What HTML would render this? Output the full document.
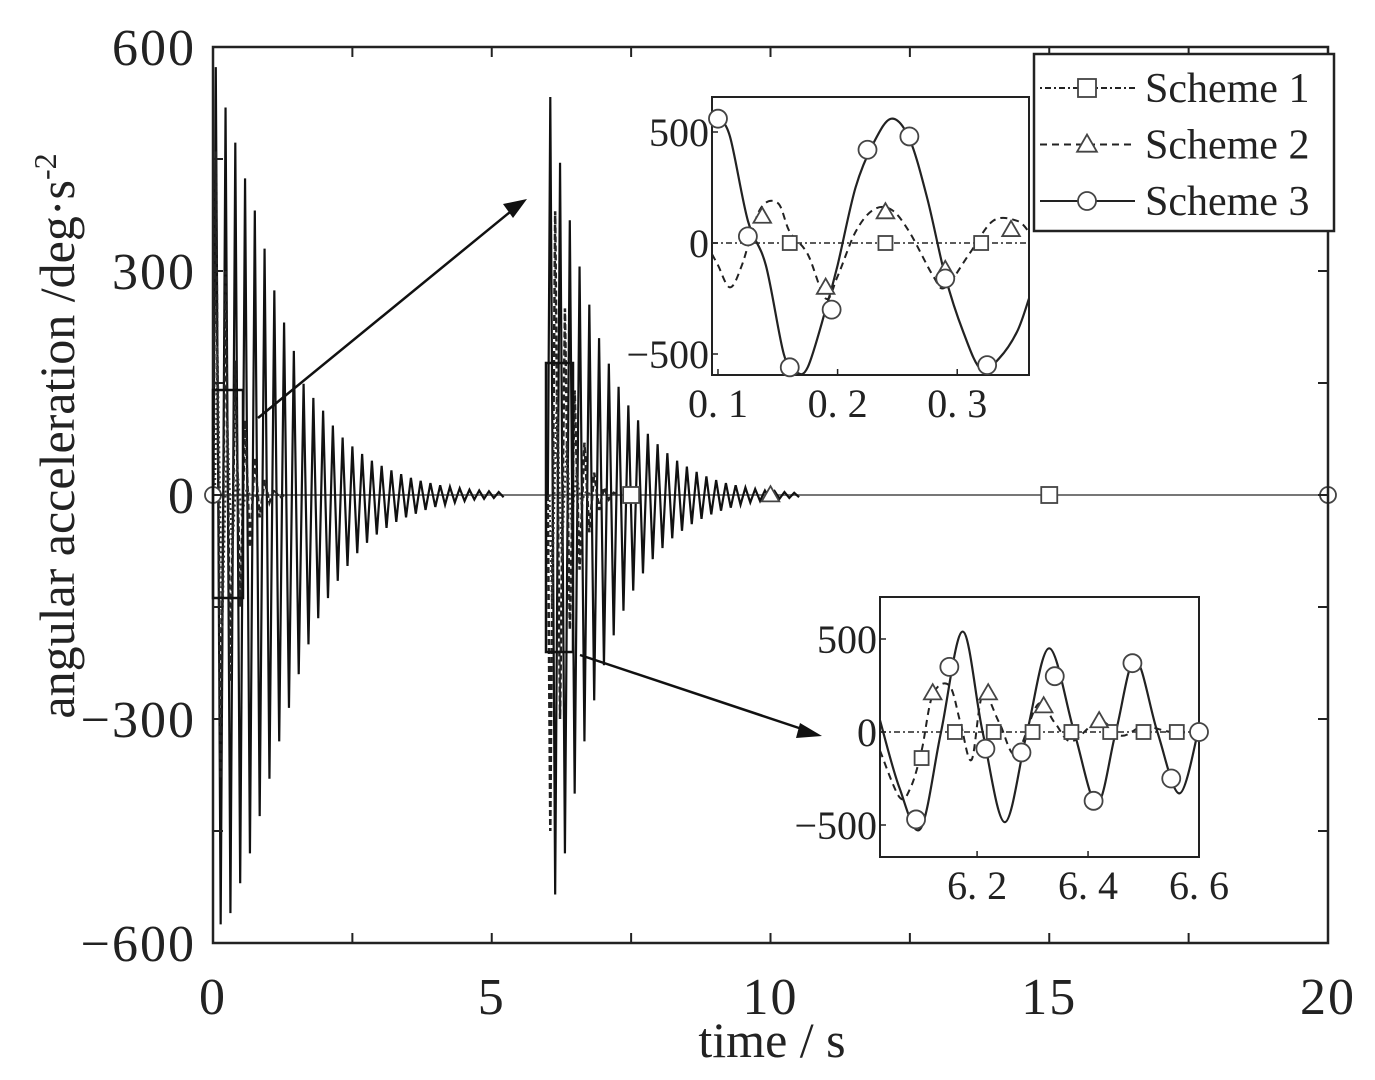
<!DOCTYPE html>
<html><head><meta charset="utf-8">
<style>
html,body{margin:0;padding:0;background:#fff;}
svg{display:block;}
text{font-family:"Liberation Serif",serif;fill:#222;}
</style></head>
<body>
<svg id="chart" width="1375" height="1080" viewBox="0 0 1375 1080" xmlns="http://www.w3.org/2000/svg">
<g id="main"></g>
<g id="inset1"></g>
<g id="inset2"></g>
<g id="legend"></g>
</svg>
<script>
// ---- main chart data ----
const xTicks = [0, 5, 10, 15, 20];
const yTicks = [600, 300, 0, -300, -600];
// Scheme 3 burst 1 (starting t=0.05) positive & negative peak amplitudes
const s3Burst1Pos = [573,519,472,424,381,330,274,231,193,149,130,113,93,77,65,55,46,39,33,28,23,19,16,13,11,9,7,6,5,4];
const s3Burst1Neg = [-575,-560,-520,-480,-430,-380,-330,-285,-240,-200,-165,-138,-115,-95,-78,-64,-53,-44,-36,-30,-25,-20,-16,-13,-10,-8,-6,-5,-4,-3];
// Scheme 3 burst 2 (starting t=6.05)
const s3Burst2Pos = [533,445,368,306,255,210,176,145,120,100,82,68,56,46,38,31,25,20,16,13,10,8,6,5,4,3];
const s3Burst2Neg = [-535,-480,-400,-330,-275,-228,-188,-155,-128,-105,-86,-71,-58,-48,-39,-32,-26,-21,-17,-13,-10,-8,-6,-5,-4,-3];
const s2Burst1 = [460,-380,300,-250,180,-150,100,-70,50,-30,20,-10,8,-4];
const s2Burst2 = [-450,380,-300,250,-180,140,-100,70,-50,30,-20,10,-6,3];
const s1Burst1 = [200,-180,100,-80,40,-30,10,-5];
const s1Burst2 = [-150,140,-90,70,-40,30,-10,5];
const burstStarts = [0.05, 6.05];
const period = 0.175;
const mainMarkers = [{s:1,t:7.5},{s:1,t:15},{s:2,t:10},{s:3,t:0},{s:3,t:20}];

// ---- inset 1 data (t 0.095..0.36) ----
const in1XTicks = [0.1, 0.2, 0.3];
const in1YTicks = [500, 0, -500];
const in1S3T = [0.095,0.1,0.11,0.125,0.14,0.155,0.165,0.175,0.19,0.2,0.215,0.23,0.245,0.26,0.275,0.29,0.305,0.32,0.335,0.35,0.36];
const in1S3V = [570,560,480,100,-100,-500,-580,-560,-300,-100,250,450,560,470,200,-150,-400,-570,-520,-400,-250];
const in1S3MarkT = [0.1,0.125,0.16,0.195,0.225,0.26,0.29,0.325];
const in1S3MarkV = [560,30,-560,-300,420,480,-160,-550];
const in1S2T = [0.095,0.1,0.11,0.12,0.135,0.15,0.16,0.175,0.19,0.2,0.215,0.23,0.245,0.26,0.28,0.29,0.31,0.33,0.35,0.36];
const in1S2V = [-50,-100,-200,-100,150,180,50,-50,-250,-150,50,150,150,50,-150,-200,-50,100,100,50];
const in1S2MarkT = [0.137,0.19,0.24,0.29,0.345];
const in1S2MarkV = [120,-200,140,-120,60];
const in1S1MarkT = [0.16,0.24,0.32];

// ---- inset 2 data (t 6.025..6.6) ----
const in2XTicks = [6.2, 6.4, 6.6];
const in2YTicks = [500, 0, -500];
const in2S3T = [6.025,6.06,6.098,6.135,6.174,6.21,6.25,6.29,6.33,6.375,6.416,6.45,6.485,6.525,6.565,6.6];
const in2S3V = [63,-300,-520,0,540,0,-485,0,450,0,-385,0,390,0,-330,25];
const in2S3MarkT = [6.09,6.15,6.215,6.28,6.34,6.41,6.48,6.55,6.6];
const in2S3MarkV = [-470,350,-90,-110,300,-370,370,-250,0];
const in2S2T = [6.025,6.06,6.08,6.1,6.12,6.15,6.17,6.19,6.21,6.24,6.27,6.31,6.34,6.37,6.42,6.46,6.5,6.55,6.6];
const in2S2V = [-100,-350,-300,-100,200,250,50,-150,200,50,-120,150,50,-50,60,-20,30,0,0];
const in2S2MarkT = [6.12,6.22,6.32,6.42];
const in2S2MarkV = [210,210,140,60];
const in2S1MarkT = [6.1,6.16,6.23,6.3,6.37,6.44,6.5,6.56];
const in2S1MarkV = [-140,0,0,0,0,0,0,0];

const NS = "http://www.w3.org/2000/svg";
function mk(parent, tag, attrs, name){
  const el = document.createElementNS(NS, tag);
  for (const k in attrs) el.setAttribute(k, attrs[k]);
  
  
  parent.appendChild(el);
  return el;
}
function marker(g, type, x, y, r, name){
  if (type === 1) return mk(g,'rect',{x:x-r,y:y-r,width:2*r,height:2*r,fill:'#fff',stroke:'#444','stroke-width':1.8},name);
  if (type === 2) return mk(g,'polygon',{points:`${x},${y-r*1.1} ${x-r*1.1},${y+r*0.8} ${x+r*1.1},${y+r*0.8}`,fill:'#fff',stroke:'#444','stroke-width':1.8},name);
  return mk(g,'circle',{cx:x,cy:y,r:r,fill:'#fff',stroke:'#444','stroke-width':1.8},name);
}
function smoothPath(pts){
  let d = `M${pts[0][0]},${pts[0][1]}`;
  for (let i=0;i<pts.length-1;i++){
    const p0 = pts[Math.max(0,i-1)], p1 = pts[i], p2 = pts[i+1], p3 = pts[Math.min(pts.length-1,i+2)];
    const c1x = p1[0]+(p2[0]-p0[0])/6, c1y = p1[1]+(p2[1]-p0[1])/6;
    const c2x = p2[0]-(p3[0]-p1[0])/6, c2y = p2[1]-(p3[1]-p1[1])/6;
    d += ` C${c1x},${c1y} ${c2x},${c2y} ${p2[0]},${p2[1]}`;
  }
  return d;
}

// ---- main axes ----
const L=213, R=1328, T=47, B=943;
const xs = t => L + (t/20)*(R-L);
const ys = v => B - ((v+600)/1200)*(B-T);
const main = document.getElementById('main');

function burstPath(start, pos, neg){
  let d = `M${xs(start-period/4)},${ys(0)}`;
  for (let i=0;i<pos.length;i++){
    d += ` L${xs(start+i*period)},${ys(pos[i])}`;
    d += ` L${xs(start+(i+0.5)*period)},${ys(neg[i])}`;
  }
  return d;
}
function altPath(start, vals, step){
  let d = `M${xs(start-step/2)},${ys(0)}`;
  for (let i=0;i<vals.length;i++) d += ` L${xs(start+i*step)},${ys(vals[i])}`;
  d += ` L${xs(start+vals.length*step)},${ys(0)}`;
  return d;
}
mk(main,'line',{x1:xs(0),y1:ys(0),x2:xs(20),y2:ys(0),stroke:'#777','stroke-width':2},'zero-baseline-series');
mk(main,'path',{d:burstPath(burstStarts[0],s3Burst1Pos,s3Burst1Neg),fill:'none',stroke:'#111','stroke-width':2.2},'scheme3-burst1');
mk(main,'path',{d:burstPath(burstStarts[1],s3Burst2Pos,s3Burst2Neg),fill:'none',stroke:'#111','stroke-width':2.2},'scheme3-burst2');
mk(main,'path',{d:altPath(burstStarts[0],s2Burst1,period/2),fill:'none',stroke:'#222','stroke-width':2.5,'stroke-dasharray':'6 3'},'scheme2-burst1');
mk(main,'path',{d:altPath(burstStarts[1],s2Burst2,period/2),fill:'none',stroke:'#222','stroke-width':2.5,'stroke-dasharray':'6 3'},'scheme2-burst2');
mk(main,'path',{d:altPath(burstStarts[0]+0.03,s1Burst1,period/2),fill:'none',stroke:'#333','stroke-width':2,'stroke-dasharray':'2 3'},'scheme1-burst1');
mk(main,'path',{d:altPath(burstStarts[1]+0.03,s1Burst2,period/2),fill:'none',stroke:'#333','stroke-width':2,'stroke-dasharray':'2 3'},'scheme1-burst2');
mainMarkers.forEach(m=>{ marker(main, m.s, xs(m.t), ys(0), 8, 'main-marker-scheme'+m.s); });

mk(main,'rect',{x:L,y:T,width:R-L,height:B-T,fill:'none',stroke:'#222','stroke-width':2.5},'main-plot-frame');
for (let t=0;t<=20;t+=2.5){
  mk(main,'line',{x1:xs(t),y1:B,x2:xs(t),y2:B-10,stroke:'#222','stroke-width':2},'x-tick');
  mk(main,'line',{x1:xs(t),y1:T,x2:xs(t),y2:T+10,stroke:'#222','stroke-width':2},'x-tick-top');
}
for (let v=-600;v<=600;v+=150){
  mk(main,'line',{x1:L,y1:ys(v),x2:L+10,y2:ys(v),stroke:'#222','stroke-width':2},'y-tick');
  mk(main,'line',{x1:R,y1:ys(v),x2:R-10,y2:ys(v),stroke:'#222','stroke-width':2},'y-tick-right');
}
xTicks.forEach(t=>{
  const e = mk(main,'text',{x:xs(t),y:1014,'font-size':52,'text-anchor':'middle','letter-spacing':2},'x-tick-label');
  e.textContent = t;
});
yTicks.forEach(v=>{
  const e = mk(main,'text',{x:196,y:ys(v)+18,'font-size':52,'text-anchor':'end','letter-spacing':2},'y-tick-label');
  e.textContent = v<0 ? '\u2212'+(-v) : v;
});
const xt = mk(main,'text',{x:772,y:1057,'font-size':50,'text-anchor':'middle'},'x-axis-title');
xt.textContent = 'time / s';
const yt = mk(main,'text',{x:0,y:0,'font-size':50,'text-anchor':'middle',transform:'translate(74,436) rotate(-90)'},'y-axis-title');
yt.innerHTML = 'angular acceleration /deg·s<tspan dy="-18" font-size="32">-2</tspan>';

mk(main,'rect',{x:213,y:390,width:30,height:208,fill:'none',stroke:'#111','stroke-width':2.5},'zoom-box-1');
mk(main,'rect',{x:546,y:363,width:27,height:289,fill:'none',stroke:'#111','stroke-width':2.5},'zoom-box-2');
mk(main,'line',{x1:258,y1:418,x2:510,y2:212,stroke:'#111','stroke-width':2.5},'arrow-1');
mk(main,'polygon',{points:'527,199 503,204 513,218',fill:'#111'},'arrow-1-head');
mk(main,'line',{x1:580,y1:655,x2:805,y2:730,stroke:'#111','stroke-width':2.5},'arrow-2');
mk(main,'polygon',{points:'822,736 800,723 796,738',fill:'#111'},'arrow-2-head');

function inset(gId, box, xr, xtk, ytk, xfmt, s3T,s3V,s3MT,s3MV, s2T,s2V,s2MT,s2MV, s1MT, s1MV){
  const g = document.getElementById(gId);
  const fx = t => box.l + (t-xr[0])/(xr[1]-xr[0])*(box.r-box.l);
  const fy = v => box.y0 - v/500*box.s;
  mk(g,'rect',{x:box.l,y:box.t,width:box.r-box.l,height:box.b-box.t,fill:'#fff',stroke:'#222','stroke-width':2},'inset-frame');
  mk(g,'line',{x1:box.l,y1:fy(0),x2:box.r,y2:fy(0),stroke:'#444','stroke-width':1.8,'stroke-dasharray':'6 3 2 3'},'inset-scheme1-line');
  mk(g,'path',{d:smoothPath(s2T.map((t,i)=>[fx(t),fy(s2V[i])])),fill:'none',stroke:'#222','stroke-width':2,'stroke-dasharray':'7 5'},'inset-scheme2-line');
  mk(g,'path',{d:smoothPath(s3T.map((t,i)=>[fx(t),fy(s3V[i])])),fill:'none',stroke:'#222','stroke-width':2.2},'inset-scheme3-line');
  s1MT.forEach((t,i)=>marker(g,1,fx(t),fy(s1MV?s1MV[i]:0),7,'inset-scheme1-marker'));
  s2MT.forEach((t,i)=>marker(g,2,fx(t),fy(s2MV[i]),8,'inset-scheme2-marker'));
  s3MT.forEach((t,i)=>marker(g,3,fx(t),fy(s3MV[i]),9,'inset-scheme3-marker'));
  xtk.forEach(t=>{
    mk(g,'line',{x1:fx(t),y1:box.b,x2:fx(t),y2:box.b-6,stroke:'#222','stroke-width':1.5},'inset-x-tick');
    const e = mk(g,'text',{x:fx(t),y:box.b+42,'font-size':40,'text-anchor':'middle'},'inset-x-tick-label');
    e.textContent = xfmt(t);
  });
  ytk.forEach(v=>{
    mk(g,'line',{x1:box.l,y1:fy(v),x2:box.l+6,y2:fy(v),stroke:'#222','stroke-width':1.5},'inset-y-tick');
    const e = mk(g,'text',{x:box.l-3,y:fy(v)+14,'font-size':40,'text-anchor':'end'},'inset-y-tick-label');
    e.textContent = v<0 ? '\u2212'+(-v) : v;
  });
}
const fmtX = t => t.toFixed(1).replace('.', '. ');
inset('inset1',{l:712,r:1029,t:97,b:375,y0:243,s:111},[0.095,0.36],in1XTicks,in1YTicks,fmtX,
  in1S3T,in1S3V,in1S3MarkT,in1S3MarkV,in1S2T,in1S2V,in1S2MarkT,in1S2MarkV,in1S1MarkT,null);
inset('inset2',{l:880,r:1199,t:597,b:857,y0:732,s:93},[6.025,6.6],in2XTicks,in2YTicks,fmtX,
  in2S3T,in2S3V,in2S3MarkT,in2S3MarkV,in2S2T,in2S2V,in2S2MarkT,in2S2MarkV,in2S1MarkT,in2S1MarkV);

const lg = document.getElementById('legend');
mk(lg,'rect',{x:1034,y:54,width:300,height:177,fill:'#fff',stroke:'#222','stroke-width':2.5},'legend-box');
const legendNames = ['Scheme 1','Scheme 2','Scheme 3'];
const legendDash = ['2 3 6 3','7 5','none'];
legendNames.forEach((n,i)=>{
  const y = 88 + i*56.5;
  mk(lg,'line',{x1:1040,y1:y,x2:1135,y2:y,stroke:'#222','stroke-width':2,'stroke-dasharray':legendDash[i]},'legend-line-'+(i+1));
  marker(lg,i+1,1087,y,9,'legend-marker-'+(i+1));
  const e = mk(lg,'text',{x:1145,y:y+14,'font-size':42},'legend-label-'+(i+1));
  e.textContent = n;
});
</script>
</body></html>
